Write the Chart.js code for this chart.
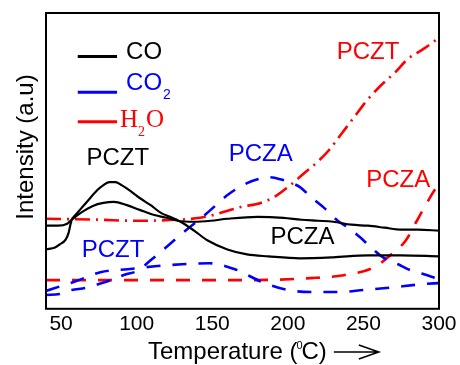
<!DOCTYPE html>
<html>
<head>
<meta charset="utf-8">
<script src="https://cdn.jsdelivr.net/npm/chart.js@4.4.0/dist/chart.umd.min.js"></script>
<style>
  html, body { margin: 0; padding: 0; background: #fff; }
  canvas { display: block; }
</style>
</head>
<body>
<canvas id="tpdChart" width="460" height="365"></canvas>
<script>
// TPD traces: temperature (°C) and intensity (a.u.) for each gas / catalyst
const coPcztTemp = [40, 46, 49, 53, 55, 56, 57, 59, 63, 67, 74, 78, 82, 86, 90, 96, 102, 109, 116, 122, 129, 138, 147, 160, 173, 187, 208, 230, 253, 275, 300];
const coPcztInt  = [60, 62, 65, 70, 77, 84, 90, 94, 101, 108, 120, 125, 128, 128, 125, 119, 112, 105, 97, 93, 88, 79, 69, 60, 55, 53, 51, 52, 54, 54, 53];

const coPczaTemp = [40, 48, 54, 57, 63, 71, 78, 85, 93, 102, 111, 120, 127, 138, 149, 160, 180, 197, 209, 220, 230, 242, 253, 264, 275, 286, 300];
const coPczaInt  = [84, 84, 86, 90, 97, 104, 107, 108, 105, 100, 95, 92, 89, 88, 89, 91, 93, 92, 90, 89, 88, 85, 84, 82, 80, 80, 79];

const co2PcztTemp = [40, 50, 60, 76, 94, 112, 130, 148, 165, 183, 200, 215, 235, 250, 265, 290, 300];
const co2PcztInt  = [18, 23, 28, 37, 40, 43, 45, 46, 40, 27, 19, 17, 17, 19, 21, 25, 26];

const co2PczaTemp = [40, 49, 57, 66, 75, 83, 93, 100, 110, 117, 130, 146, 161, 173, 180, 187, 195, 201, 208, 216, 224, 233, 240, 248, 255, 263, 273, 281, 290, 300];
const co2PczaInt  = [14, 15, 19, 21, 25, 29, 35, 38, 50, 59, 76, 96, 116, 127, 131, 133, 131, 128, 123, 112, 102, 89, 82, 72, 62, 52, 45, 39, 35, 30];

const h2oPcztTemp = [40, 76, 98, 127, 142, 151, 169, 182, 192, 200, 210, 220, 227, 236, 244, 252, 261, 271, 279, 290, 300];
const h2oPcztInt  = [91, 90, 89, 90, 92, 95, 103, 107, 114, 123, 136, 149, 160, 178, 194, 210, 225, 239, 252, 263, 274];

const h2oPczaTemp = [40, 110, 175, 215, 237, 257, 270, 278, 285, 292, 298, 300];
const h2oPczaInt  = [29, 29, 29, 31, 34, 42, 57, 69, 88, 107, 122, 125];

const xTicks = [50, 100, 150, 200, 250, 300];

const BLACK = '#000000';
const BLUE = '#0000ff';
const RED = '#ff0000';
const SANS = '"Liberation Sans", Arial, sans-serif';
const SERIF = '"Liberation Serif", "Times New Roman", serif';

function pts(xs, ys) {
    return xs.map((x, i) => ({ x: x, y: ys[i] }));
}

function trace(label, xs, ys, color, dash, width) {
    return {
        label: label,
        data: pts(xs, ys),
        borderColor: color,
        borderWidth: width,
        borderDash: dash,
        fill: false,
        pointRadius: 0,
        cubicInterpolationMode: 'monotone'
    };
}

// curve labels, placed in data units (temperature, intensity)
const curveLabels = [
    { text: 'PCZT', color: BLACK, x: 87.5, y: 145 },
    { text: 'PCZA', color: BLACK, x: 209.7, y: 66 },
    { text: 'PCZT', color: BLUE, x: 84.4, y: 52 },
    { text: 'PCZA', color: BLUE, x: 182, y: 149 },
    { text: 'PCZT', color: RED, x: 253, y: 253 },
    { text: 'PCZA', color: RED, x: 273, y: 123 }
];

const annotate = {
    id: 'annotate',
    afterDatasetsDraw(chart) {
        const ctx = chart.ctx;
        const a = chart.chartArea;
        const sx = chart.scales.x;
        const sy = chart.scales.y;
        const px = v => sx.getPixelForValue(v);
        const py = v => sy.getPixelForValue(v);

        ctx.save();

        // plot frame
        ctx.strokeStyle = BLACK;
        ctx.lineWidth = 2;
        ctx.strokeRect(a.left, a.top, a.right - a.left, a.bottom - a.top);

        // curve labels
        ctx.font = '24px ' + SANS;
        ctx.textAlign = 'center';
        ctx.textBaseline = 'alphabetic';
        curveLabels.forEach(l => {
            ctx.fillStyle = l.color;
            ctx.fillText(l.text, px(l.x), py(l.y));
        });

        // legend
        ctx.textAlign = 'left';
        ctx.lineWidth = 3;
        const legendLine = (color, yv) => {
            ctx.strokeStyle = color;
            ctx.beginPath();
            ctx.moveTo(px(61), py(yv));
            ctx.lineTo(px(87), py(yv));
            ctx.stroke();
        };
        legendLine(BLACK, 255);
        legendLine(BLUE, 219);
        legendLine(RED, 189);

        ctx.font = '24px ' + SANS;
        ctx.fillStyle = BLACK;
        ctx.fillText('CO', px(93), py(253));

        ctx.fillStyle = BLUE;
        ctx.fillText('CO', px(93), py(221));
        let w = ctx.measureText('CO').width;
        ctx.font = '14px ' + SANS;
        ctx.fillText('2', px(93) + w + 1, py(212));

        ctx.fillStyle = RED;
        ctx.font = '25px ' + SERIF;
        let hx = px(89);
        ctx.fillText('H', hx, py(184));
        hx += ctx.measureText('H').width;
        ctx.font = '14px ' + SERIF;
        ctx.fillText('2', hx, py(175));
        hx += ctx.measureText('2').width + 1;
        ctx.font = '25px ' + SERIF;
        ctx.fillText('O', hx, py(184));

        // x axis title with superscript and arrow
        ctx.fillStyle = BLACK;
        ctx.font = '24px ' + SANS;
        let tx = a.left + 102;
        const ty = chart.height - 6;
        ctx.fillText('Temperature (', tx, ty);
        tx += ctx.measureText('Temperature (').width;
        ctx.font = '11px ' + SANS;
        ctx.fillText('0', tx - 1, ty - 10);
        tx += ctx.measureText('0').width - 2;
        ctx.font = '24px ' + SANS;
        ctx.fillText('C)', tx, ty);
        tx += ctx.measureText('C)').width + 7;

        ctx.strokeStyle = BLACK;
        ctx.lineWidth = 1.5;
        ctx.beginPath();
        ctx.moveTo(tx, ty - 7);
        ctx.lineTo(tx + 45, ty - 7);
        ctx.moveTo(tx + 25, ty - 14);
        ctx.lineTo(tx + 45, ty - 7);
        ctx.lineTo(tx + 25, ty);
        ctx.stroke();

        // y axis title
        ctx.save();
        ctx.translate(33, a.top + 134);
        ctx.rotate(-Math.PI / 2);
        ctx.textAlign = 'center';
        ctx.font = '24px ' + SANS;
        ctx.fillText('Intensity (a.u)', 0, 0);
        ctx.restore();

        ctx.restore();
    }
};

const data = {
    datasets: [
        trace('CO PCZT', coPcztTemp, coPcztInt, BLACK, [], 2.2),
        trace('CO PCZA', coPczaTemp, coPczaInt, BLACK, [], 2.2),
        trace('CO2 PCZT', co2PcztTemp, co2PcztInt, BLUE, [14, 12], 2.6),
        trace('CO2 PCZA', co2PczaTemp, co2PczaInt, BLUE, [14, 12], 2.6),
        trace('H2O PCZT', h2oPcztTemp, h2oPcztInt, RED, [15, 6, 2, 6], 2.6),
        trace('H2O PCZA', h2oPczaTemp, h2oPczaInt, RED, [14, 12], 2.6)
    ]
};

const config = {
    type: 'line',
    data: data,
    options: {
        responsive: false,
        animation: false,
        layout: { padding: { left: 46, right: 21, top: 13, bottom: 25 } },
        plugins: { legend: { display: false }, tooltip: { enabled: false } },
        scales: {
            x: {
                type: 'linear',
                min: 40,
                max: 300,
                afterBuildTicks: s => { s.ticks = xTicks.map(v => ({ value: v })); },
                grid: { display: false, drawTicks: false },
                border: { display: false },
                ticks: {
                    color: BLACK,
                    padding: 3,
                    maxRotation: 0,
                    autoSkip: false,
                    font: { family: SANS, size: 21 }
                }
            },
            y: { min: 0, max: 299, display: false }
        }
    },
    plugins: [annotate]
};

// eslint-disable-next-line
const tpdChart = new Chart(document.getElementById('tpdChart'), config);
</script>
</body>
</html>
